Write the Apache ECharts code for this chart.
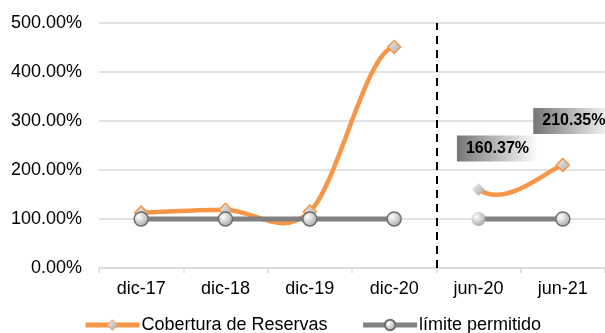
<!DOCTYPE html>
<html>
<head>
<meta charset="utf-8">
<script src="https://cdn.jsdelivr.net/npm/echarts@6/dist/echarts.min.js"></script>
<style>
  html, body { margin: 0; padding: 0; background: #fff; }
  #chart { width: 605px; height: 333px; }
</style>
</head>
<body>
<div id="chart"></div>
<script>
// Periods on the horizontal axis (annual closes, then mid-year)
const categories = ['dic-17', 'dic-18', 'dic-19', 'dic-20', 'jun-20', 'jun-21'];
// Reserve coverage, December closes (%)
const coverageDec = [113, 119, 115, 451];
// Reserve coverage, June closes (%)
const coverageJun = [160.37, 210.35];
// Permitted limit (%)
const limitDec = [100, 100, 100, 100];
const limitJun = [100, 100];
// Y axis ticks
const yTicks = [0, 100, 200, 300, 400, 500];

const FONT = 'Liberation Sans, Arial, sans-serif';
const ORANGE = '#F79646';
const GREY = '#808080';

const nDec = coverageDec.length;
const coverageAll = coverageDec.concat(coverageJun);
const pad = (arr, before, after) =>
  Array(before).fill('-').concat(arr, Array(after).fill('-'));

const diamondFill = {
  type: 'linear', x: 0, y: 0, x2: 1, y2: 1,
  colorStops: [{ offset: 0, color: '#f2f2f2' }, { offset: 1, color: '#a6a6a6' }]
};
const circleFill = {
  type: 'radial', x: 0.35, y: 0.35, r: 0.8,
  colorStops: [{ offset: 0, color: '#ffffff' }, { offset: 1, color: '#9a9a9a' }]
};
const labelBg = {
  type: 'linear', x: 0, y: 0, x2: 1, y2: 0,
  colorStops: [{ offset: 0, color: '#757575' }, { offset: 1, color: '#ffffff' }]
};

// Coverage markers (the curve itself is drawn by the custom series below)
const coverageMarkers = {
  name: 'Cobertura de Reservas',
  type: 'line',
  z: 2,
  data: coverageAll.map((v, i) => {
    const item = { value: v };
    if (i >= nDec) {
      item.label = {
        show: true,
        position: 'inside',
        offset: i === nDec ? [19, -41] : [11, -44],
        formatter: p => p.value.toFixed(2) + '%',
        fontFamily: FONT,
        fontSize: 16,
        fontWeight: 'bold',
        color: '#000',
        backgroundColor: labelBg,
        padding: [5, 9, 5, 9]
      };
    }
    if (i === nDec) item.itemStyle = { borderWidth: 0 };
    return item;
  }),
  symbol: 'diamond',
  symbolSize: 13,
  lineStyle: { color: ORANGE, width: 4.5, opacity: 0 },
  itemStyle: { color: diamondFill, borderColor: ORANGE, borderWidth: 1.5 }
};

// Smoothed coverage curve: cubic Bezier segments with Catmull-Rom style tangents
// (neighbour difference / 6); the segment between the two period groups is skipped.
const coverageCurve = {
  name: 'Cobertura de Reservas',
  type: 'custom',
  z: 1,
  silent: true,
  data: coverageAll.map((v, i) => [i, v]),
  renderItem: (params, api) => {
    const i = params.dataIndex;
    const last = coverageAll.length - 1;
    if (i >= last || i === nDec - 1) return null;
    const pt = k => api.coord([k, coverageAll[k]]);
    const p0 = pt(Math.max(i - 1, 0));
    const p1 = pt(i);
    const p2 = pt(i + 1);
    const p3 = pt(Math.min(i + 2, last));
    return {
      type: 'bezierCurve',
      shape: {
        x1: p1[0], y1: p1[1], x2: p2[0], y2: p2[1],
        cpx1: p1[0] + (p2[0] - p0[0]) / 6, cpy1: p1[1] + (p2[1] - p0[1]) / 6,
        cpx2: p2[0] - (p3[0] - p1[0]) / 6, cpy2: p2[1] - (p3[1] - p1[1]) / 6
      },
      style: { stroke: ORANGE, lineWidth: 4.5, fill: null, lineCap: 'round' }
    };
  }
};

function limitSeries(values, before, after, softFirst) {
  const data = pad(values, before, after).map((v, i) => {
    if (v === '-') return v;
    if (softFirst && i === before) return { value: v, itemStyle: { borderWidth: 0 } };
    return v;
  });
  return {
    name: 'límite permitido',
    type: 'line',
    data: data,
    symbol: 'circle',
    symbolSize: 14,
    z: 3,
    lineStyle: { color: GREY, width: 5 },
    itemStyle: { color: circleFill, borderColor: '#6e6e6e', borderWidth: 1.5 }
  };
}

// Dashed divider between the December and June groups
const divider = {
  type: 'line',
  xAxisIndex: 1,
  data: [],
  silent: true,
  markLine: {
    symbol: 'none',
    silent: true,
    label: { show: false },
    lineStyle: { color: '#000', width: 2, type: [8, 6] },
    data: [{ xAxis: nDec }]
  }
};

const chart = echarts.init(document.getElementById('chart'), null, { renderer: 'canvas' });
chart.setOption({
  animation: false,
  backgroundColor: '#fff',
  textStyle: { fontFamily: FONT },
  grid: { left: 99, top: 23, width: 508, bottom: 65 },
  legend: {
    bottom: -1,
    left: 83,
    padding: 0,
    itemGap: 33,
    itemWidth: 54,
    itemHeight: 13,
    textStyle: { fontFamily: FONT, fontSize: 18, color: '#000', padding: [0, 0, 0, -3] },
    data: [
      {
        name: 'Cobertura de Reservas',
        lineStyle: { color: ORANGE, width: 5, opacity: 1 },
        itemStyle: { color: diamondFill, borderColor: ORANGE, borderWidth: 1 }
      },
      {
        name: 'límite permitido',
        lineStyle: { color: GREY, width: 5, opacity: 1 }
      }
    ]
  },
  xAxis: [{
    type: 'category',
    data: categories,
    boundaryGap: true,
    axisLine: { lineStyle: { color: '#d9d9d9', width: 1.5 } },
    axisTick: { show: true, length: 5, lineStyle: { color: '#d9d9d9', width: 1.5 } },
    axisLabel: { fontFamily: FONT, fontSize: 18, color: '#000', margin: 12 },
    splitLine: { show: false }
  }, {
    type: 'value',
    show: false,
    min: 0,
    max: categories.length
  }],
  yAxis: {
    type: 'value',
    min: yTicks[0],
    max: yTicks[yTicks.length - 1],
    interval: 100,
    axisLine: { show: false },
    axisTick: { show: false },
    axisLabel: {
      fontFamily: FONT, fontSize: 18, color: '#000', margin: 17,
      formatter: v => v.toFixed(2) + '%'
    },
    splitLine: { lineStyle: { color: '#d9d9d9', width: 1.5 } }
  },
  series: [
    coverageMarkers,
    coverageCurve,
    limitSeries(limitDec, 0, categories.length - nDec, false),
    limitSeries(limitJun, nDec, 0, true),
    divider
  ]
});
</script>
</body>
</html>
